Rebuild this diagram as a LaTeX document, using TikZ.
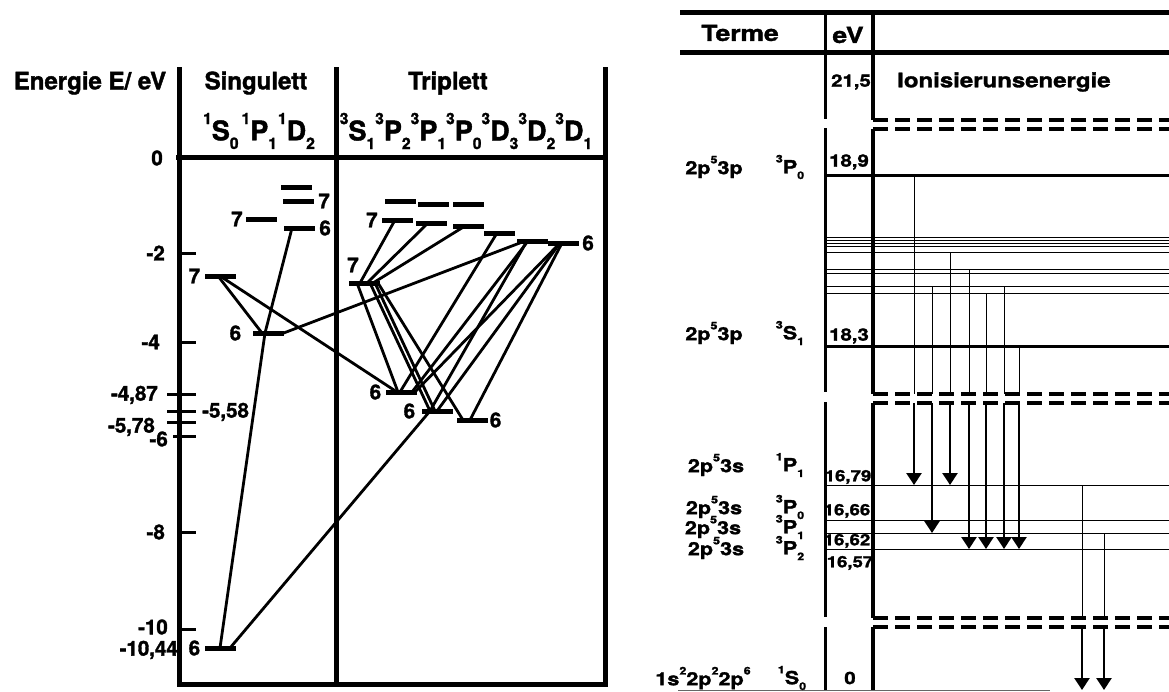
\documentclass[tikz,border=0pt]{standalone}
\usepackage{fontspec}
\setmainfont{TeX Gyre Heros}[BoldFeatures={FakeBold=1.6}]
\newfontfamily\widefont{TeX Gyre Heros}[FakeStretch=1.2, BoldFeatures={FakeBold=1.6}]
\usepackage{tikz}
\usetikzlibrary{positioning,arrows.meta}
\newcommand\hoch[1]{\raisebox{.6em}{\scalebox{.58}{#1}}}
\newcommand\tief[1]{\raisebox{-.32em}{\scalebox{.58}{#1}}}
\newcommand\trm[3]{\hoch{#1}#2\tief{#3}}
\tikzset{
  every node/.style={inner sep=0pt},
  bar/.style={fill=black, minimum width=31pt, minimum height=5pt, inner sep=0pt},
  frame/.style={line width=5pt},
  tr/.style={line width=2.8pt},
  tickln/.style={line width=3pt},
  num/.style={font=\bfseries\fontsize{20.5}{20.5}\selectfont},
  head/.style={font=\bfseries\fontsize{24}{24}\selectfont},
  terms/.style={font=\bfseries\fontsize{27}{27}\selectfont},
  rhead/.style={font=\widefont\bfseries\fontsize{22}{22}\selectfont},
  rtxt/.style={font=\widefont\bfseries\fontsize{18}{18}\selectfont},
  rval/.style={font=\widefont\bfseries\fontsize{17}{17}\selectfont},
  rsmall/.style={font=\widefont\bfseries\fontsize{15.5}{15.5}\selectfont},
  axisL/.style={line width=3pt},
  axisR/.style={line width=3.5pt},
  level/.style={line width=3pt},
  thinlvl/.style={line width=1pt},
  dashln/.style={line width=3.5pt, dash pattern=on 15pt off 7pt},
  arr/.style={line width=2.5pt, -{Triangle[width=15pt,length=12pt]}},
}
\begin{document}
\bfseries
\begin{tikzpicture}[x=1pt,y=-1pt]
\useasboundingbox (0,0) rectangle (1169,691);

% ---- Singulett / Triplett ----
\node[head] (energie) at (90,83) {Energie E/ eV};
\node[head] (singulett) at (256,83) {Singulett};
\node[head] (triplett) at (448,83) {Triplett};
\node[terms] (sterms) at (259,131) {\trm{1}{S}{0}\kern3pt\trm{1}{P}{1}\kern1pt\trm{1}{D}{2}};
\node[terms] (tterms) at (466,131) {\trm{3}{S}{1}\trm{3}{P}{2}\trm{3}{P}{1}\trm{3}{P}{0}\trm{3}{D}{3}\trm{3}{D}{2}\trm{3}{D}{1}};

\draw[frame] (179,67) -- (179,684) -- (605,684) -- (605,67);
\draw[frame] (336,67) -- (336,684);
\draw[frame] (176,157) -- (608,157);

% axis ticks
\foreach \y/\xa in {253/179,342/179,394/167,411/167,422/167,436/173,532/179,629/179}
  \draw[tickln] (\xa,\y) -- (196,\y);
\node[num, anchor=east] (e0) at (163,158) {0};
\node[num, anchor=east] (e2) at (165,253) {-2};
\node[num, anchor=east] (e4) at (160,342) {-4};
\node[num, anchor=east] (e487) at (158,395) {-4,87};
\node[num, anchor=west] (e558) at (202,412) {-5,58};
\node[num, anchor=east] (e578) at (155,427) {-5,78};
\node[num, anchor=east] (e6) at (168,439) {-6};
\node[num, anchor=east] (e8) at (165,532) {-8};
\node[num, anchor=east] (e10) at (168,627) {-10};
\node[num, anchor=east] (e1044) at (178,650) {-10,44};

% singulett levels
\node[bar] (sD1) at (296.5,187) {};
\node[bar] (sD7) at (298.5,201) {};
\node[bar] (sD6) at (299.5,228) {};
\node[bar] (sP7) at (261.5,219) {};
\node[bar] (sS7) at (220,276) {};
\node[bar] (sP6) at (268,333) {};
\node[bar] (sS6) at (220,648) {};
\node[num, right=4pt of sD7] (nD7) {7};
\node[num, right=4pt of sD6] (nD6) {6};
\node[num, left=3pt of sP7] (nP7) {7};
\node[num, left=4pt of sS7] (nS7) {7};
\node[num, left=11pt of sP6] (nP6) {6};
\node[num, left=4pt of sS6] (nS6) {6};

% triplett levels
\node[bar] (tA1) at (400.5,201) {};
\node[bar] (tA2) at (433,204) {};
\node[bar] (tA3) at (468.5,204) {};
\node[bar] (tP27) at (397.5,220) {};
\node[bar] (tP17) at (431.5,223) {};
\node[bar] (tP07) at (468.5,226) {};
\node[bar] (tD3) at (499,233) {};
\node[bar] (tD2) at (532.5,241) {};
\node[bar] (tD1) at (563.5,243) {};
\node[bar] (tS7) at (364,283) {};
\node[bar] (tA6) at (401,392) {};
\node[bar] (tB6) at (437,411) {};
\node[bar] (tC6) at (472,420) {};
\node[num, left=4pt of tP27] (nP27) {7};
\node[num, right=3pt of tD1] (nD1) {6};
\node[num] (nS7t) at (353,265) {7};
\node[num, left=4pt of tA6] (nA6) {6};
\node[num, left=6pt of tB6] (nB6) {6};
\node[num, right=2pt of tC6] (nC6) {6};

% transitions
\draw[tr] ([xshift=-7.5pt]sD6.center) -- ([xshift=-3pt]sP6.center) -- (sS6.center);
\draw[tr] ([xshift=-2pt]sS7.center) -- ([xshift=-6pt]sP6.center);
\draw[tr] (sS7.center) -- ([xshift=-4pt]tA6.center);
\draw[tr] (sP6.east) -- ([xshift=-7.5pt]tD2.center);
\draw[tr] ([xshift=10pt]sS6.center) -- ([xshift=-7pt]tB6.center);
\draw[tr] ([xshift=-4pt]tS7.center) -- ([xshift=-2.5pt]tP27.center);
\draw[tr] ([xshift=3pt]tS7.center) -- ([xshift=-3.5pt]tP17.center);
\draw[tr] ([xshift=9pt]tS7.center) -- ([xshift=-3.5pt]tP07.center);
\draw[tr] ([xshift=-7pt]tS7.center) -- ([xshift=-3pt]tA6.center);
\draw[tr] ([xshift=6pt]tS7.center) -- ([xshift=-7pt]tB6.center);
\draw[tr] ([xshift=11pt]tS7.center) -- ([xshift=-2pt]tB6.center);
\draw[tr] ([xshift=14pt]tS7.center) -- ([xshift=-9pt]tC6.center);
\draw[tr] ([xshift=-1pt]tA6.center) -- ([xshift=-2pt]tD3.center);
\draw[tr] ([xshift=11pt]tA6.center) -- ([xshift=-4.5pt]tD2.center);
\draw[tr] ([xshift=14pt]tA6.center) -- ([xshift=-3.5pt]tD1.center);
\draw[tr] ([xshift=-7pt]tB6.center) -- ([xshift=-5.5pt]tD2.center);
\draw[tr] (tB6.center) -- ([xshift=-3.5pt]tD1.center);
\draw[tr] ([xshift=-2pt]tC6.center) -- ([xshift=-1.5pt]tD1.center);

% ---- Terme / eV ----
\draw[line width=5pt] (680,12) -- (1169,12);
\draw[line width=5pt] (680,52) -- (1169,52);
\node[rhead] (terme) at (740,33) {Terme};
\node[rhead] (ev) at (848,35) {eV};
\node[rval] (v215) at (851,82) {21,5};
\node[rhead, anchor=west, font=\widefont\bfseries\fontsize{20}{20}\selectfont] (ionis) at (897,82) {Ionisierunsenergie};

% axes with breaks
\draw[axisL] (825,12) -- (825,119);
\draw[axisL] (825,128) -- (825,392);
\draw[axisL] (825,402) -- (825,617);
\draw[axisL] (825,627) -- (825,691);
\draw[axisR] (873,12) -- (873,120);
\draw[axisR] (873,129) -- (873,394);
\draw[axisR] (873,403) -- (873,618);
\draw[axisR] (873,627) -- (873,691);
\foreach \y in {120,129,394,403,618,627}
  \draw[dashln] (873,\y) -- (1169,\y);

% levels
\draw[level] (825,175) -- (1169,175);
\draw[level] (825,346) -- (1169,346);
\foreach \y in {237.3,240,243.3,246.7,252.7,269.3,273.3,286.7,293.3}
  \draw[thinlvl] (825,\y) -- (1169,\y);
\foreach \y in {485,520,533,549}
  \draw[thinlvl] (825,\y) -- (1169,\y);
\draw[thinlvl, black!60] (678,690) -- (1050,690);

% transitions
\foreach \x/\y in {914/175,932/286.7,950/252.7,969/269.3,986/293.3,1004/286.7,1019/346}
  \draw[thinlvl] (\x,\y) -- (\x,394);
\foreach \x/\y in {914/485,932/533,950/485,969/549,986/549,1004/549,1019/549}
  \draw[arr] (\x,403) -- (\x,\y);
\draw[thinlvl] (1082,485) -- (1082,618);
\draw[thinlvl] (1104,533) -- (1104,618);
\draw[arr] (1082,627) -- (1082,690);
\draw[arr] (1104,627) -- (1104,690);

% labels
\node[rtxt] (k1) at (714,167) {2p\hoch{5}3p};
\node[rtxt] (t1) at (790,167) {\trm{3}{P}{0}};
\node[rval] (v189) at (849,162) {18,9};
\node[rtxt] (k2) at (714,333) {2p\hoch{5}3p};
\node[rtxt] (t2) at (790,333) {\trm{3}{S}{1}};
\node[rval] (v183) at (849,336) {18,3};
\node[rtxt] (k3) at (716,465) {2p\hoch{5}3s};
\node[rtxt] (t3) at (790,465) {\trm{1}{P}{1}};
\node[rsmall] (v1679) at (848,477) {16,79};
\node[rtxt] (k4) at (714,507) {2p\hoch{5}3s};
\node[rtxt] (t4) at (790,507) {\trm{3}{P}{0}};
\node[rsmall] (v1666) at (847,511) {16,66};
\node[rtxt] (k5) at (713,527) {2p\hoch{5}3s};
\node[rtxt] (t5) at (790,527) {\trm{3}{P}{1}};
\node[rsmall] (v1662) at (847,541) {16,62};
\node[rtxt] (k6) at (716,548) {2p\hoch{5}3s};
\node[rtxt] (t6) at (790,548) {\trm{3}{P}{2}};
\node[rsmall] (v1657) at (850,563) {16,57};
\node[rtxt] (k7) at (703,678) {1s\hoch{2}2p\hoch{2}2p\hoch{6}};
\node[rtxt] (t7) at (792,678) {\trm{1}{S}{0}};
\node[rval] (v0) at (850,678) {0};
\end{tikzpicture}
\end{document}
